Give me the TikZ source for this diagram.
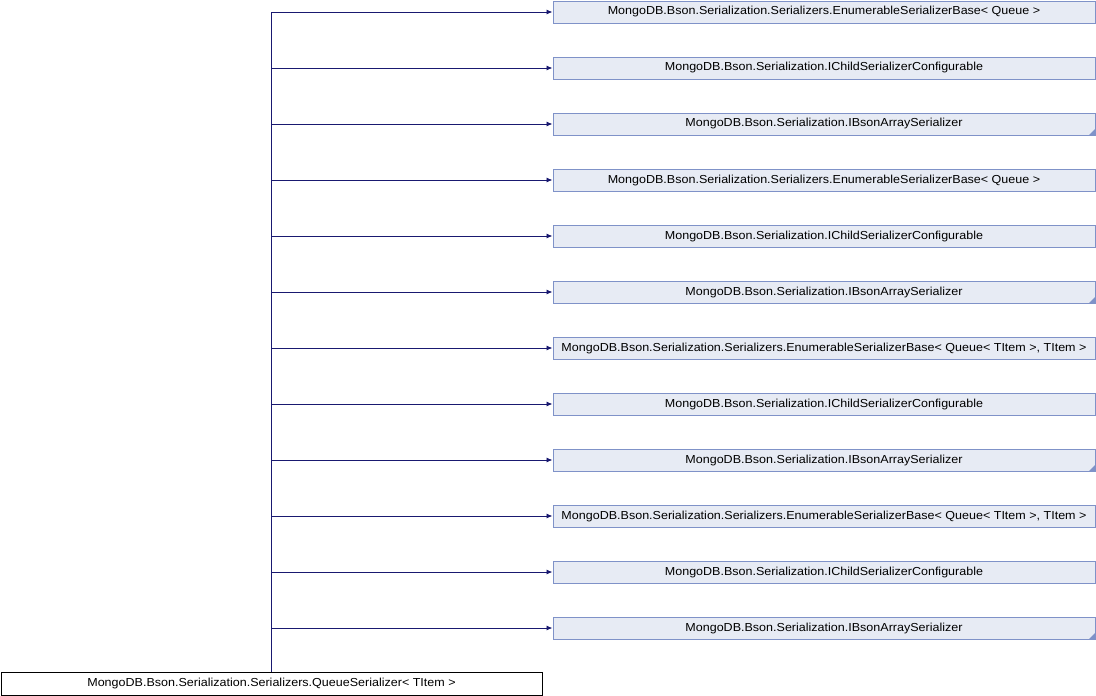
\documentclass[tikz,border=0pt]{standalone}
\usepackage{fontspec}
\setmainfont{Liberation Sans}[FakeStretch=1.08]
\usetikzlibrary{arrows.meta}
\definecolor{nodefill}{HTML}{E7EBF4}
\definecolor{nodeline}{HTML}{7F92C8}
\definecolor{edgecol}{HTML}{191970}
\tikzset{
  target/.style={draw=nodeline, fill=nodefill, line width=1pt, minimum width=542pt, minimum height=22pt, inner sep=0pt, font=\fontsize{11.6pt}{13pt}\selectfont},
  basebox/.style={draw=black, fill=white, line width=1pt, minimum width=541pt, minimum height=23pt, inner sep=0pt, font=\fontsize{11.6pt}{13pt}\selectfont},
  edge/.style={draw=edgecol, line width=0.9pt, -{Latex[length=6pt,width=5pt]}},
  fold/.style={fill=nodeline, draw=none}
}
\newcommand{\foldmark}[1]{\fill[nodeline] ([xshift=-0.5pt,yshift=0.5pt]#1.south east) -- ++(0,6pt) -- ++(-6pt,-6pt) -- cycle;}
\begin{document}
\begin{tikzpicture}[x=1pt,y=-1pt]
\useasboundingbox (0,0) rectangle (1096,696);
\node[basebox] (base) at (271.5,683.5) {MongoDB.Bson.Serialization.Serializers.QueueSerializer< TItem >};
\node[target] (t1) at (824,12) {MongoDB.Bson.Serialization.Serializers.EnumerableSerializerBase< Queue >};
\node[target] (t2) at (824,68) {MongoDB.Bson.Serialization.IChildSerializerConfigurable};
\node[target] (t3) at (824,124) {MongoDB.Bson.Serialization.IBsonArraySerializer};
\node[target] (t4) at (824,180) {MongoDB.Bson.Serialization.Serializers.EnumerableSerializerBase< Queue >};
\node[target] (t5) at (824,236) {MongoDB.Bson.Serialization.IChildSerializerConfigurable};
\node[target] (t6) at (824,292) {MongoDB.Bson.Serialization.IBsonArraySerializer};
\node[target] (t7) at (824,348) {MongoDB.Bson.Serialization.Serializers.EnumerableSerializerBase< Queue< TItem >, TItem >};
\node[target] (t8) at (824,404) {MongoDB.Bson.Serialization.IChildSerializerConfigurable};
\node[target] (t9) at (824,460) {MongoDB.Bson.Serialization.IBsonArraySerializer};
\node[target] (t10) at (824,516) {MongoDB.Bson.Serialization.Serializers.EnumerableSerializerBase< Queue< TItem >, TItem >};
\node[target] (t11) at (824,572) {MongoDB.Bson.Serialization.IChildSerializerConfigurable};
\node[target] (t12) at (824,628) {MongoDB.Bson.Serialization.IBsonArraySerializer};
\foldmark{t3}
\foldmark{t6}
\foldmark{t9}
\foldmark{t12}
\foreach \i in {1,...,12} {
  \draw[edge] (base.north) |- (t\i.west);
}
\end{tikzpicture}
\end{document}
